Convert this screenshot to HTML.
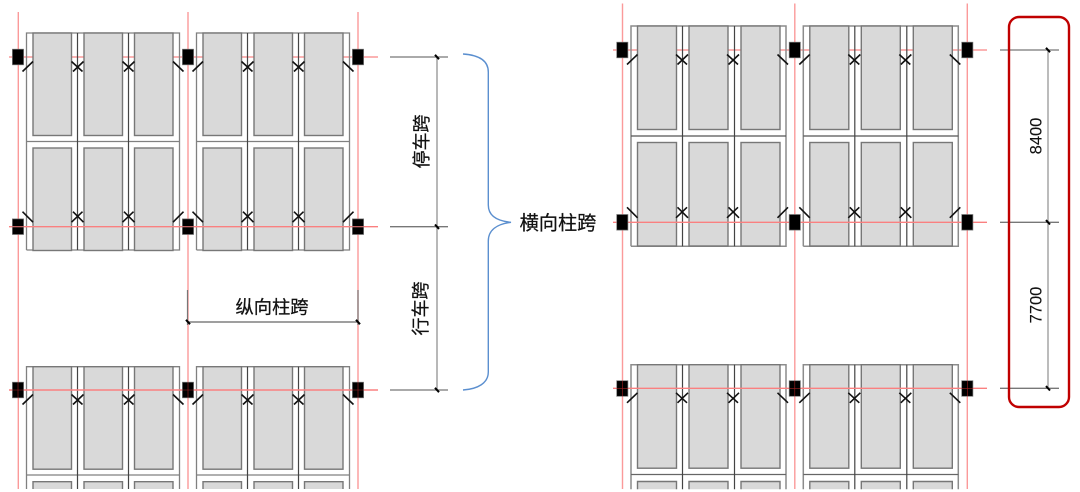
<!DOCTYPE html>
<html>
<head>
<meta charset="utf-8">
<style>
html,body{margin:0;padding:0;background:#fff;width:1080px;height:492px;overflow:hidden}
svg{display:block}
text{font-family:"Liberation Sans","Noto Sans CJK SC",sans-serif;fill:#111;stroke:#111;stroke-width:.25}
</style>
</head>
<body>
<svg width="1080" height="492" viewBox="0 0 1080 492" xmlns="http://www.w3.org/2000/svg">
<defs>
  <g id="car" ><rect width="38.5" height="102.5" fill="#d9d9d9" stroke="#777" stroke-width="1.4"/></g>
  <g id="carR"><rect width="39" height="103.5" fill="#d9d9d9" stroke="#777" stroke-width="1.4"/></g>

  <!-- left full bay -->
  <g id="bayL">
    <path d="M0 217V0H153V217H0M0 108.5H153" fill="none" stroke="#808080" stroke-width="1.3"/>
    <use href="#car" x="6.5" y="0"/><use href="#car" x="57.5" y="0"/><use href="#car" x="108" y="0"/>
    <use href="#car" x="6.5" y="115"/><use href="#car" x="57.5" y="115"/><use href="#car" x="108" y="115"/>
    <path d="M51 0V217M102 0V217" stroke="#444" stroke-width="1.2"/>
  </g>
  <g id="bayL3">
    <path d="M0 122.3V0H153V122.3M0 108.3H153" fill="none" stroke="#808080" stroke-width="1.3"/>
    <use href="#car" x="6.5" y="0"/><use href="#car" x="57.5" y="0"/><use href="#car" x="108" y="0"/>
    <path d="M6.5 122.3V115H45V122.3M57.5 122.3V115H96V122.3M108 122.3V115H146.5V122.3" fill="#d9d9d9" stroke="#777" stroke-width="1.4"/>
    <path d="M51 0V122.3M102 0V122.3" stroke="#444" stroke-width="1.2"/>
  </g>

  <!-- right full bay -->
  <g id="bayR">
    <path d="M0 220.3V0H155V220.3H0" fill="none" stroke="#8c8c8c" stroke-width="1.5"/>
    <path d="M0 110H155" stroke="#555" stroke-width="1.2"/>
    <use href="#carR" x="6.5" y="0"/><use href="#carR" x="58" y="0"/><use href="#carR" x="110" y="0"/>
    <use href="#carR" x="6.5" y="116.5"/><use href="#carR" x="58" y="116.5"/><use href="#carR" x="110" y="116.5"/>
    <path d="M51.5 0V220.3M103.5 0V220.3" stroke="#444" stroke-width="1.2"/>
  </g>
  <g id="bayR3">
    <path d="M0 124.5V0H155V124.5" fill="none" stroke="#8c8c8c" stroke-width="1.5"/>
    <path d="M0 109.8H155" stroke="#666" stroke-width="1.2"/>
    <use href="#carR" x="6.5" y="0"/><use href="#carR" x="58" y="0"/><use href="#carR" x="110" y="0"/>
    <path d="M6.5 124.5V116.8H45.5V124.5M58 124.5V116.8H97V124.5M110 124.5V116.8H149V124.5" fill="#d9d9d9" stroke="#777" stroke-width="1.4"/>
    <path d="M51.5 0V124.5M103.5 0V124.5" stroke="#444" stroke-width="1.2"/>
  </g>

  <!-- column block, origin at centre of block -->
  <rect id="col" x="-5.6" y="-7.8" width="11.2" height="15.6" fill="#000" stroke="#777" stroke-width=".7"/>

  <!-- door/slash marks -->
  <g id="marksD" stroke="#111" stroke-width="1.6" fill="none">
    <path d="M-4 14.5 6.5 4.5"/>
    <path d="M45 4.5 56 14.5M57 4.5 46.5 14.5"/>
    <path d="M96 4.5 107 14.5M108 4.5 97.5 14.5"/>
    <path d="M146.5 4.5 157 14.5"/>
  </g>
  <g id="marksU" stroke="#111" stroke-width="1.6" fill="none">
    <path d="M-4 -15 6.5 -4.5"/>
    <path d="M45 -4.5 56 -15M57 -4.5 46.5 -15"/>
    <path d="M96 -4.5 107 -15M108 -4.5 97.5 -15"/>
    <path d="M146.5 -4.5 157 -15"/>
  </g>
  <path id="tick" d="M-2 -2.2 2 2.2" stroke="#000" stroke-width="2" fill="none"/>
</defs>

<!-- ============ LEFT DIAGRAM ============ -->
<path d="M9 57H378" stroke="#fa9a9a" stroke-width="1.4"/>
<use href="#bayL" x="26.5" y="33"/>
<use href="#bayL" x="196.5" y="33"/>
<use href="#bayL3" x="26.5" y="366.7"/>
<use href="#bayL3" x="196.5" y="366.7"/>
<path d="M18.3 12V489M188 12V489M358 12V489" stroke="#fb9a9a" stroke-width="1.4"/>
<path d="M9 226.7H378M9 390H378" stroke="#fa8080" stroke-width="1.4"/>
<use href="#col" x="18" y="57"/><use href="#col" x="188" y="57"/><use href="#col" x="358" y="57"/>
<use href="#col" x="18" y="226.7"/><use href="#col" x="188" y="226.7"/><use href="#col" x="358" y="226.7"/>
<use href="#col" x="18" y="390"/><use href="#col" x="188" y="390"/><use href="#col" x="358" y="390"/>
<path d="M18 382.2V397.8M188 382.2V397.8M358 382.2V397.8M12.4 390H23.6M182.4 390H193.6M352.4 390H363.6" stroke="#a02020" stroke-width=".6"/>
<path d="M12.4 226.7H23.6M182.4 226.7H193.6M352.4 226.7H363.6" stroke="#fa8080" stroke-width="1"/>
<use href="#marksD" x="26.5" y="57"/><use href="#marksD" x="196.5" y="57"/>
<use href="#marksU" x="26.5" y="226.7"/><use href="#marksU" x="196.5" y="226.7"/>
<use href="#marksD" x="26.5" y="390"/><use href="#marksD" x="196.5" y="390"/>

<!-- left dims -->
<path d="M390 57H448M390 226.7H448M390 390H448" stroke="#777" stroke-width="1.3"/>
<path d="M437 57V390" stroke="#999" stroke-width="1.4"/>
<use href="#tick" x="437" y="57"/><use href="#tick" x="437" y="226.7"/><use href="#tick" x="437" y="390"/>
<path d="M187.5 290V325M358 290V325" stroke="#777" stroke-width="1.2"/>
<path d="M187.5 322H358.5" stroke="#666" stroke-width="1.2"/>
<use href="#tick" x="188" y="322"/><use href="#tick" x="358" y="322"/>
<text x="272" y="313.5" font-size="18.3" text-anchor="middle">纵向柱跨</text>
<text transform="translate(428 141.5) rotate(-90)" font-size="18" text-anchor="middle">停车跨</text>
<text transform="translate(427 308.5) rotate(-90)" font-size="18" text-anchor="middle">行车跨</text>

<!-- brace -->
<path d="M463 54C478 55 488.3 60 488.3 72V205C488.3 216 497 221 511 222.3C497 224 488.3 230 488.3 241V372C488.3 383 478 389 463 390" fill="none" stroke="#5b8fcf" stroke-width="1.4"/>
<text x="558" y="229.5" font-size="19.2" text-anchor="middle">横向柱跨</text>

<!-- ============ RIGHT DIAGRAM ============ -->
<path d="M613 50H987" stroke="#fa9a9a" stroke-width="1.4"/>
<use href="#bayR" x="631" y="26"/>
<use href="#bayR" x="803.3" y="26"/>
<use href="#bayR3" x="631" y="364.7"/>
<use href="#bayR3" x="803.3" y="364.7"/>
<path d="M622.5 3.5V489M794.8 3.5V489M967.3 3.5V489" stroke="#fb9a9a" stroke-width="1.4"/>
<path d="M613 222.3H987M613 388.3H987" stroke="#fa8080" stroke-width="1.4"/>
<use href="#col" x="622.3" y="50"/><use href="#col" x="794.8" y="50"/><use href="#col" x="967.3" y="50"/>
<use href="#col" x="622.3" y="222.3"/><use href="#col" x="794.8" y="222.3"/><use href="#col" x="967.3" y="222.3"/>
<use href="#col" x="622.3" y="388.5"/><use href="#col" x="794.8" y="388.5"/><use href="#col" x="967.3" y="388.5"/>
<path d="M622.5 380.8V396.2M794.8 380.8V396.2M967.3 380.8V396.2M616.7 388.3H628M789.2 388.3H800.5M961.7 388.3H973" stroke="#a02020" stroke-width=".6"/>
<use href="#marksD" x="631" y="50"/><use href="#marksD" x="803.3" y="50"/>
<use href="#marksU" x="631" y="222.3"/><use href="#marksU" x="803.3" y="222.3"/>
<use href="#marksD" x="631" y="388.3"/><use href="#marksD" x="803.3" y="388.3"/>

<!-- right dims -->
<path d="M1000 50H1059M1000 222.3H1059M1000 388.3H1059" stroke="#777" stroke-width="1.3"/>
<path d="M1048 50V388.3" stroke="#a0a0a0" stroke-width="1.4"/>
<use href="#tick" x="1048" y="50"/><use href="#tick" x="1048" y="222.3"/><use href="#tick" x="1048" y="388.3"/>
<text transform="translate(1041.5 136) rotate(-90)" font-size="16.5" text-anchor="middle" style="stroke-width:.1">8400</text>
<text transform="translate(1041.5 305) rotate(-90)" font-size="16.5" text-anchor="middle" style="stroke-width:.1">7700</text>
<rect x="1009" y="17" width="60" height="390" rx="10" ry="10" fill="none" stroke="#c00000" stroke-width="2.4"/>
</svg>
</body>
</html>
